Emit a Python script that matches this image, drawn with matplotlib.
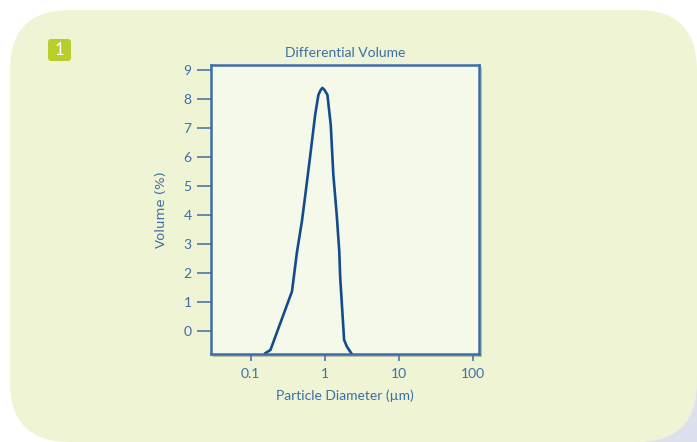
import matplotlib
matplotlib.use('Agg')
import matplotlib.pyplot as plt
from matplotlib.patches import FancyBboxPatch, Rectangle

# data
diameter = [0.158, 0.185, 0.361, 0.422, 0.492, 0.544, 0.635, 0.741, 0.82,
            0.88, 0.929, 0.99, 1.084, 1.203, 1.303, 1.448, 1.568, 1.61,
            1.82, 1.98, 2.27]
volume = [-0.77, -0.66, 1.36, 2.73, 3.79, 4.66, 6.03, 7.45, 8.14,
          8.31, 8.38, 8.31, 8.14, 7.10, 5.38, 4.00, 2.73, 1.87,
          -0.31, -0.54, -0.77]
x_ticks = [0.1, 1, 10, 100]
x_labels = ['0.1', '1', '10', '100']
y_ticks = list(range(0, 10))

W, H = 697, 442
BLUE = '#3c6ea6'
LINE = '#144b8d'
FONT = ['Lato', 'DejaVu Sans']

fig = plt.figure(figsize=(W / 100, H / 100), dpi=100)
fig.patch.set_facecolor('white')

# background decoration in pixel coordinates
bg = fig.add_axes([0, 0, 1, 1], zorder=0)
bg.set_xlim(0, W)
bg.set_ylim(H, 0)
bg.axis('off')
bg.add_patch(Rectangle((600, 330), 120, 130, color='#dde0ee', lw=0))
bg.add_patch(FancyBboxPatch((10 + 60, 10 + 60), 687 - 120, 432 - 120,
                            boxstyle='round,pad=60', fc='#eff4d5', ec='none'))
# shadow behind the plot frame
bg.add_patch(Rectangle((213, 67), 269, 290, color='#b9bdaa', lw=0))
# badge
bg.add_patch(FancyBboxPatch((51, 42), 17, 16, boxstyle='round,pad=3',
                            fc='#b8cf2b', ec='none'))
bg.text(59.5, 50, '1', color='white', fontsize=12, ha='center', va='center',
        family=FONT)

ax = fig.add_axes([211 / W, (H - 354) / H, 268 / W, 289 / H], zorder=1)
ax.set_facecolor('#f5f9e9')
ax.plot(diameter, volume, color=LINE, lw=1.9, solid_joinstyle='round')
ax.set_xscale('log')
ax.set_xlim(0.0292, 120)
ax.set_ylim(-0.8, 9.17)

ax.set_xticks(x_ticks)
ax.set_xticklabels(x_labels)
ax.minorticks_off()
ax.set_yticks(y_ticks)
ax.tick_params(axis='y', length=10, width=1.1, color=BLUE, labelcolor=BLUE,
               labelsize=10, pad=4)
ax.tick_params(axis='x', length=5, width=1.1, color=BLUE, labelcolor=BLUE,
               labelsize=10, pad=5)
for lab in ax.get_xticklabels() + ax.get_yticklabels():
    lab.set_family(FONT)
for sp in ax.spines.values():
    sp.set_color(BLUE)
    sp.set_linewidth(1.8)

ax.set_title('Differential Volume', color=BLUE, fontsize=10, family=FONT,
             pad=6)
ax.set_xlabel('Particle Diameter (µm)', color=BLUE, fontsize=10,
              family=FONT, labelpad=7)
ax.set_ylabel('Volume (%)', color=BLUE, fontsize=9.5,
              family=['Liberation Sans Narrow', 'DejaVu Sans'], labelpad=11)

fig.savefig('out.png', dpi=100)
